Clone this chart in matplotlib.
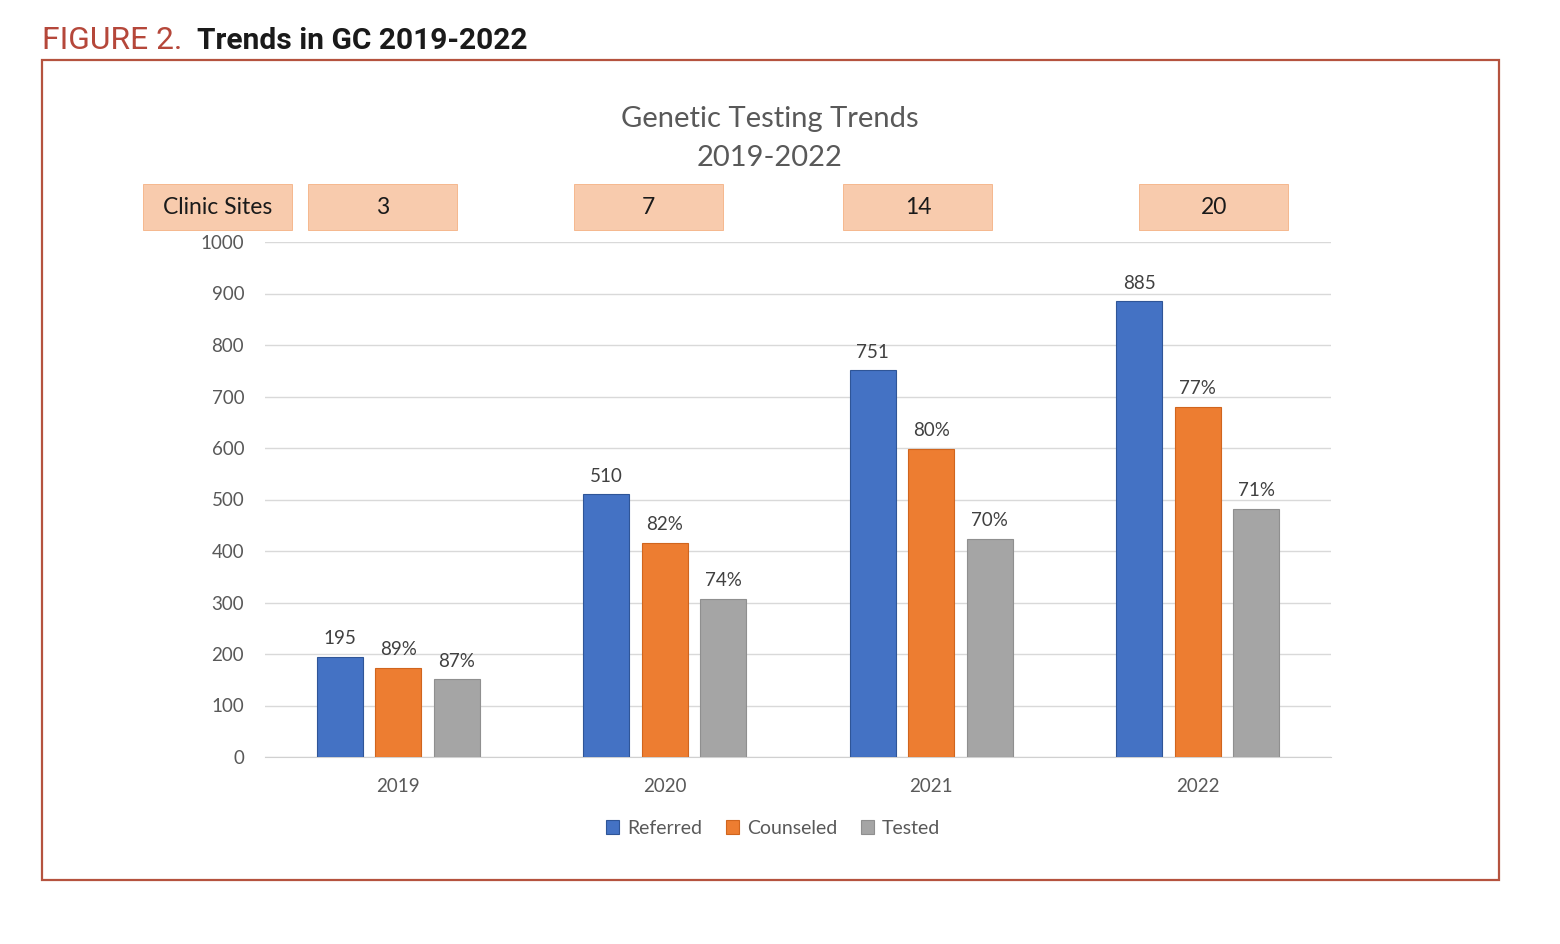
import numpy as np
import matplotlib
matplotlib.use("Agg")
import matplotlib.pyplot as plt
from matplotlib.patches import Rectangle

plt.rcParams['font.family'] = ['Lato', 'DejaVu Sans']

# data
years = ['2019', '2020', '2021', '2022']
referred = [195, 510, 751, 885]
counseled = [173, 416, 598, 680]
tested = [151, 307, 423, 482]
counseled_pct = ['89%', '82%', '80%', '77%']
tested_pct = ['87%', '74%', '70%', '71%']
clinic_sites = [3, 7, 14, 20]
site_shift = [-0.06, -0.06, -0.05, 0.06]

c_blue = '#4472C4'
c_orange = '#ED7D31'
c_grey = '#A5A5A5'
txt = '#595959'

fig = plt.figure(figsize=(15.6, 9.44), dpi=100)
renderer = fig.canvas.get_renderer()

# header + border (fit text widths to the reference)
head_font = ['Roboto', 'Liberation Sans', 'DejaVu Sans']
t1 = fig.text(42 / 1560, 1 - 49 / 944, 'FIGURE 2.', color='#B5473A', fontsize=22,
              family=head_font, fontweight='normal', va='baseline', ha='left')
t2 = fig.text(197 / 1560, 1 - 49 / 944, 'Trends in GC 2019-2022', color='#1a1a1a',
              fontsize=22, fontweight='bold', family=head_font, va='baseline', ha='left')
for t, target in [(t1, 140), (t2, 330)]:
    wpx = t.get_window_extent(renderer).width
    t.set_fontsize(22 * target / wpx)
fig.patches.append(Rectangle((42 / 1560, 1 - 880 / 944), (1499 - 42) / 1560, (880 - 60) / 944,
                             transform=fig.transFigure, fill=False, edgecolor='#B5533F',
                             linewidth=1.6))

ax = fig.add_axes([265 / 1560, 1 - 757 / 944, (1331 - 265) / 1560, (757 - 242) / 944])

x = np.arange(len(years))
w = 0.173
off = 0.22
b1 = ax.bar(x - off, referred, w, color=c_blue, edgecolor='#2F5597', linewidth=0.8, zorder=3)
b2 = ax.bar(x, counseled, w, color=c_orange, edgecolor='#D0651E', linewidth=0.8, zorder=3)
b3 = ax.bar(x + off, tested, w, color=c_grey, edgecolor='#8F8F8F', linewidth=0.8, zorder=3)

for bars, labels in [(b1, [str(v) for v in referred]), (b2, counseled_pct), (b3, tested_pct)]:
    for bar, lab in zip(bars, labels):
        ax.annotate(lab, (bar.get_x() + bar.get_width() / 2, bar.get_height()),
                    xytext=(0, 7), textcoords='offset points', ha='center', va='bottom',
                    fontsize=13.5, color='#404040')

ax.set_xlim(-0.5, 3.5)
ax.set_ylim(0, 1000)
ax.set_yticks(np.arange(0, 1001, 100))
ax.set_xticks(x)
ax.set_xticklabels(years)
ax.tick_params(length=0, labelsize=13.5, labelcolor=txt)
ax.tick_params(axis='y', pad=15)
ax.tick_params(axis='x', pad=15)
ax.grid(axis='y', color='#D9D9D9', linewidth=1, zorder=0)
for s in ['top', 'right', 'left']:
    ax.spines[s].set_visible(False)
ax.spines['bottom'].set_color('#D0D0D0')

# chart title
fig.text(770 / 1560, 1 - 119 / 944, 'Genetic Testing Trends', ha='center', va='center',
         fontsize=21, color=txt)
fig.text(770 / 1560, 1 - 158 / 944, '2019-2022', ha='center', va='center',
         fontsize=21, color=txt)

# clinic sites boxes
bw = 0.559
y0, y1 = 1023, 1112
peach = '#F8CBAD'
ax.add_patch(Rectangle((-0.677 - bw / 2, y0), bw, y1 - y0, facecolor=peach,
                       edgecolor='#F4B183', linewidth=0.6, clip_on=False))
ax.text(-0.677, (y0 + y1) / 2, 'Clinic Sites', ha='center', va='center', fontsize=16.5,
        color='#1a1a1a')
for i, n in enumerate(clinic_sites):
    cx = x[i] + site_shift[i]
    ax.add_patch(Rectangle((cx - bw / 2, y0), bw, y1 - y0, facecolor=peach,
                           edgecolor='#F4B183', linewidth=0.6, clip_on=False))
    ax.text(cx, (y0 + y1) / 2, str(n), ha='center', va='center', fontsize=16.5, color='#1a1a1a')

# legend
leg = fig.legend([b1, b2, b3], ['Referred', 'Counseled', 'Tested'], loc='center',
                 bbox_to_anchor=(773 / 1560, 1 - 828 / 944), ncol=3, frameon=False,
                 fontsize=14, handlelength=0.7, handleheight=0.7, handletextpad=0.4,
                 columnspacing=1.2)
for t in leg.get_texts():
    t.set_color(txt)

fig.savefig('out.png', dpi=100)
